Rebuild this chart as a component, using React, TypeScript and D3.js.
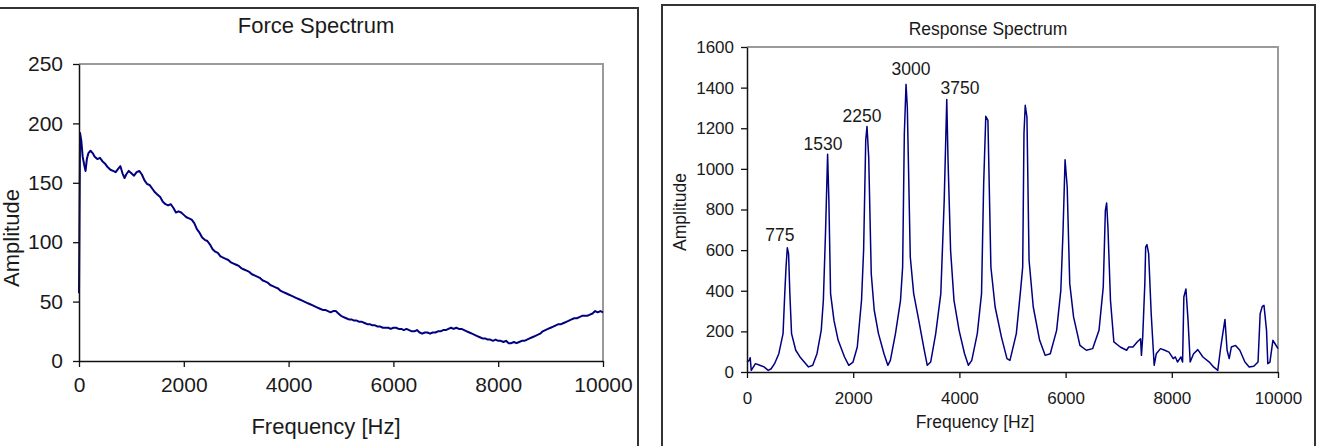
import { useEffect, useRef } from 'react';
import * as d3 from 'd3';

// ─── Datos: espectro de fuerza ───────────────────────────────────────────────
const forceFreq = [
  0, 20, 45, 70, 100, 125, 150, 180, 220, 260, 300, 350, 400, 450, 500, 550, 600, 650, 700, 750,
  790, 830, 870, 900, 950, 1000, 1050, 1100, 1150, 1200, 1250, 1300, 1350, 1400, 1450, 1500, 1550,
  1600, 1650, 1700, 1750, 1800, 1850, 1900, 1950, 2000, 2050, 2100, 2150, 2200, 2250, 2300, 2350,
  2400, 2450, 2500, 2550, 2600, 2650, 2700, 2750, 2800, 2850, 2900, 2950, 3000, 3050, 3100, 3150,
  3200, 3250, 3300, 3350, 3400, 3450, 3500, 3550, 3600, 3650, 3700, 3750, 3800, 3850, 3900, 3950,
  4000, 4050, 4100, 4150, 4200, 4250, 4300, 4350, 4400, 4450, 4500, 4550, 4600, 4650, 4700, 4750,
  4800, 4850, 4900, 4950, 5000, 5050, 5100, 5150, 5200, 5250, 5300, 5350, 5400, 5450, 5500, 5550,
  5600, 5650, 5700, 5750, 5800, 5850, 5900, 5950, 6000, 6050, 6100, 6150, 6200, 6250, 6300, 6350,
  6400, 6450, 6500, 6550, 6600, 6650, 6700, 6750, 6800, 6850, 6900, 6950, 7000, 7050, 7100, 7150,
  7200, 7250, 7300, 7350, 7400, 7450, 7500, 7550, 7600, 7650, 7700, 7750, 7800, 7850, 7900, 7950,
  8000, 8050, 8100, 8150, 8200, 8250, 8300, 8350, 8400, 8450, 8500, 8550, 8600, 8650, 8700, 8750,
  8800, 8850, 8900, 8950, 9000, 9050, 9100, 9150, 9200, 9250, 9300, 9350, 9400, 9450, 9500, 9550,
  9600, 9650, 9700, 9750, 9800, 9850, 9900, 9950, 10000,
];
const forceAmp = [
  57, 192, 185, 172, 165, 160, 170, 175, 177, 175, 172, 170, 171, 168, 166, 163, 161, 160, 159, 162,
  164, 158, 154, 157, 160, 158, 156, 159, 160, 157, 152, 149, 148, 145, 142, 140, 138,
  134, 132, 131, 132, 129, 125, 126, 125, 123, 121, 120, 119, 116, 111, 108, 104,
  102, 101, 98, 94, 92, 91, 88, 87, 86, 85, 83, 82, 81, 80, 78, 77,
  76, 75, 73, 72, 71, 70, 68, 67, 66, 64, 63, 62, 61, 59, 58, 57,
  56, 55, 54, 53, 52, 51, 50, 49, 48, 47, 46, 45, 44, 43, 43, 42,
  41, 42, 42, 40, 38, 37, 36, 35, 35, 34, 34, 33, 33, 32, 31, 31,
  30, 30, 29, 29, 28, 28, 28, 27, 28, 28, 27, 27, 26, 27, 26, 25,
  25, 26, 24, 23, 24, 24, 23, 24, 24, 25, 25, 26, 26, 27, 28, 27,
  28, 27, 27, 26, 25, 24, 23, 22, 21, 20, 19, 19, 18, 18, 17, 18,
  17, 17, 16, 17, 15, 15, 16, 15, 16, 17, 17, 18, 19, 20, 21, 22,
  23, 25, 26, 27, 28, 29, 30, 31, 31, 32, 33, 34, 35, 36, 36, 37,
  38, 38, 38, 39, 40, 42, 41, 42, 41,
];

// ─── Datos: espectro de respuesta ────────────────────────────────────────────
const respFreq = [
  0, 40, 60, 80, 160, 240, 320, 400, 455, 519, 599, 679, 711, 735, 759, 783, 807, 839, 918, 998,
  1078, 1158, 1238, 1318, 1398, 1438, 1478, 1518, 1542, 1574, 1638, 1717, 1837, 1917, 1997, 2077,
  2157, 2196, 2236, 2260, 2292, 2340, 2396, 2476, 2580, 2652, 2700, 2796, 2891, 2931, 2963, 2995,
  3019, 3075, 3139, 3235, 3339, 3395, 3459, 3554, 3650, 3714, 3762, 3786, 3834, 3898, 3994, 4097,
  4169, 4233, 4337, 4417, 4457, 4497, 4537, 4593, 4673, 4792, 4896, 4952, 5072, 5152, 5192, 5216,
  5240, 5272, 5312, 5391, 5511, 5615, 5711, 5831, 5910, 5950, 5990, 6030, 6078, 6150, 6270, 6390,
  6509, 6629, 6709, 6749, 6773, 6797, 6845, 6909, 7029, 7149, 7189, 7268, 7348, 7412, 7428, 7452,
  7492, 7508, 7532, 7564, 7612, 7668, 7708, 7787, 7867, 7947, 8027, 8067, 8107, 8171, 8203, 8227,
  8266, 8306, 8346, 8410, 8490, 8586, 8706, 8786, 8866, 8922, 9001, 9041, 9081, 9121, 9201, 9281,
  9377, 9457, 9544, 9624, 9664, 9704, 9736, 9784, 9808, 9848, 9904, 9944, 10000,
];
const respAmp = [
  49, 57, 70, 8, 41, 33, 25, 8, 16, 41, 90, 189, 386, 517, 612, 583, 386, 189, 107, 74,
  49, 25, 33, 90, 205, 353, 681, 1072, 845, 386, 254, 156, 74, 33, 49, 123,
  353, 599, 1140, 1209, 1058, 484, 304, 189, 90, 33, 57, 189, 353, 517, 1173, 1416,
  1305, 566, 386, 254, 107, 33, 49, 189, 386, 845, 1341, 1042, 599, 353, 205, 90,
  33, 57, 189, 386, 927, 1259, 1239, 517, 320, 172, 66, 57, 189, 402, 517, 1173,
  1313, 1255, 550, 320, 156, 82, 90, 205, 402, 681, 1045, 911, 435, 271, 131, 107,
  115, 205, 418, 796, 832, 714, 353, 148, 123, 107, 123, 123, 148, 164, 82, 172,
  435, 615, 627, 583, 287, 33, 90, 115, 107, 98, 66, 74, 49, 74, 49, 369,
  409, 254, 49, 90, 110, 74, 49, 25, 8, 123, 259, 107, 66, 123, 131, 107,
  49, 25, 28, 49, 287, 323, 328, 205, 41, 49, 156, 139, 115,
];

// Etiquetas de picos (posición del texto en unidades de datos)
const peakLabels = ['775', '1530', '2250', '3000', '3750'];
const peakLabelFreq = [621, 1431, 2166, 3089, 4011];
const peakLabelAmp = [645, 1093, 1231, 1462, 1369];

const freqTicks = [0, 2000, 4000, 6000, 8000, 10000];
const forceTicks = [0, 50, 100, 150, 200, 250];
const respTicks = [0, 200, 400, 600, 800, 1000, 1200, 1400, 1600];

const FONT = 'Arial, "Liberation Sans", sans-serif';
const LINE = '#000080';
const TXT = '#1a1a1a';

function drawPanel(root, o) {
  const x = d3.scaleLinear().domain([0, 10000]).range([o.left, o.right]);
  const y = d3.scaleLinear().domain([0, o.yMax]).range([o.bottom, o.top]);

  // marco del panel
  root.append('rect')
    .attr('x', o.frame[0]).attr('y', o.frame[1])
    .attr('width', o.frame[2]).attr('height', o.frame[3])
    .attr('fill', '#fff').attr('stroke', '#333').attr('stroke-width', 2);

  // borde superior y derecho del área de trazado
  root.append('path')
    .attr('d', `M${o.left},${o.top}H${o.right}V${o.bottom}`)
    .attr('fill', 'none').attr('stroke', '#9a9a9a').attr('stroke-width', 2);

  const line = d3.line()
    .x((d, i) => x(o.xs[i]))
    .y(d => y(d));

  root.append('path')
    .datum(o.ys)
    .attr('fill', 'none')
    .attr('stroke', LINE)
    .attr('stroke-width', o.lineW)
    .attr('stroke-linejoin', 'round')
    .attr('d', line);

  const styleAxis = ax => {
    ax.select('.domain').attr('stroke', '#111').attr('stroke-width', 1.5);
    ax.selectAll('line').attr('stroke', '#111').attr('stroke-width', 1.3);
    ax.selectAll('text').attr('fill', TXT).attr('font-size', o.tickFs).attr('font-family', FONT);
  };

  root.append('g')
    .attr('transform', `translate(0,${o.bottom})`)
    .call(d3.axisBottom(x).tickValues(freqTicks).tickSize(6).tickSizeOuter(0).tickPadding(o.xPad).tickFormat(d3.format('d')))
    .call(styleAxis);

  root.append('g')
    .attr('transform', `translate(${o.left},0)`)
    .call(d3.axisLeft(y).tickValues(o.yTicks).tickSize(6).tickSizeOuter(0).tickPadding(o.yPad).tickFormat(d3.format('d')))
    .call(styleAxis);

  // títulos
  root.append('text')
    .attr('x', o.titlePos[0]).attr('y', o.titlePos[1])
    .attr('text-anchor', 'middle').attr('font-family', FONT)
    .attr('font-size', o.titleFs).attr('fill', TXT)
    .text(o.title);

  root.append('text')
    .attr('x', o.xLabPos[0]).attr('y', o.xLabPos[1])
    .attr('text-anchor', 'middle').attr('font-family', FONT)
    .attr('font-size', o.labFs).attr('fill', TXT)
    .text('Frequency [Hz]');

  root.append('text')
    .attr('transform', `translate(${o.yLabPos[0]},${o.yLabPos[1]}) rotate(-90)`)
    .attr('text-anchor', 'middle').attr('font-family', FONT)
    .attr('font-size', o.labFs).attr('fill', TXT)
    .text('Amplitude');

  return { x, y };
}

export default function App() {
  const svgRef = useRef(null);

  useEffect(() => {
    const svg = d3.select(svgRef.current);
    svg.selectAll('*').remove();

    drawPanel(svg.append('g'), {
      frame: [-2, 8, 640, 450],
      left: 79, right: 603, top: 64, bottom: 361,
      yMax: 250, yTicks: forceTicks,
      xs: forceFreq, ys: forceAmp, lineW: 2,
      tickFs: 21, titleFs: 22, labFs: 22,
      xPad: 10, yPad: 10,
      title: 'Force Spectrum', titlePos: [316, 33],
      xLabPos: [326, 434], yLabPos: [19, 238],
    });

    const r = drawPanel(svg.append('g'), {
      frame: [662, 5, 653, 450],
      left: 747, right: 1278, top: 47, bottom: 372,
      yMax: 1600, yTicks: respTicks,
      xs: respFreq, ys: respAmp, lineW: 1.5,
      tickFs: 17, titleFs: 17.5, labFs: 17.5,
      xPad: 14, yPad: 7,
      title: 'Response Spectrum', titlePos: [988, 35],
      xLabPos: [975, 428], yLabPos: [686, 212],
    });

    svg.append('g')
      .selectAll('text')
      .data(peakLabels)
      .join('text')
      .attr('x', (d, i) => r.x(peakLabelFreq[i]))
      .attr('y', (d, i) => r.y(peakLabelAmp[i]))
      .attr('text-anchor', 'middle')
      .attr('font-family', FONT)
      .attr('font-size', 17.5)
      .attr('fill', TXT)
      .text(d => d);
  }, []);

  return (
    <svg
      ref={svgRef}
      width={1325}
      height={446}
      style={{ position: 'absolute', left: 0, top: 0, background: '#fff' }}
    />
  );
}
